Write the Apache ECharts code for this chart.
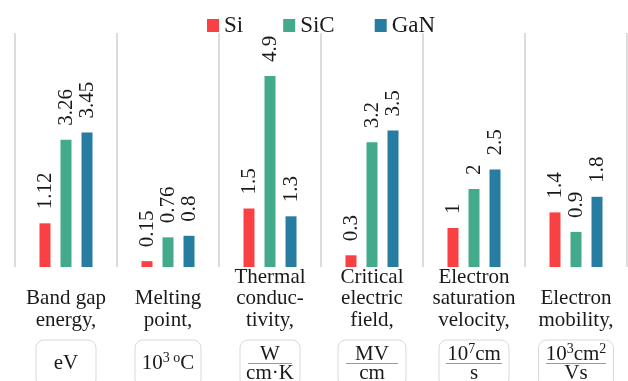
<!DOCTYPE html>
<html>
<head>
<meta charset="utf-8">
<script src="https://cdn.jsdelivr.net/npm/echarts@6/dist/echarts.min.js"></script>
<style>
  html, body { margin: 0; padding: 0; background: #fff; }
  #chart { width: 628px; height: 381px; }
</style>
</head>
<body>
<div id="chart"></div>
<script>
// Material properties of Si, SiC and GaN
const categories = [
  'Band gap\nenergy,',
  'Melting\npoint,',
  'Thermal\nconduc-\ntivity,',
  'Critical\nelectric\nfield,',
  'Electron\nsaturation\nvelocity,',
  'Electron\nmobility,'
];
const unitLabels = [
  '{one|eV}',
  '{one|10}{sup1|3 o}{one|C}',
  '{num|W}\n{barW| }\n{den|cm·K}',
  '{num|MV}\n{barMV| }\n{den|cm}',
  '{num|10}{sup|7}{num|cm}\n{barV| }\n{den|s}',
  '{num|10}{sup|3}{num|cm}{sup|2}\n{barM| }\n{den|Vs}'
];
const seriesNames = ['Si', 'SiC', 'GaN'];
const siValues = [1.12, 0.15, 1.5, 0.3, 1, 1.4];
const sicValues = [3.26, 0.76, 4.9, 3.2, 2, 0.9];
const ganValues = [3.45, 0.8, 1.3, 3.5, 2.5, 1.8];

const FONT = 'Liberation Serif';
const TEXT = '#1a1a1a';
const colors = ['#f94144', '#43aa8b', '#277da1'];
const unitBoxInner = [46, 52, 46, 54, 56, 61];

const chart = echarts.init(document.getElementById('chart'), null, { renderer: 'canvas' });

const barLabel = {
  show: true,
  position: 'top',
  rotate: 90,
  align: 'left',
  verticalAlign: 'middle',
  distance: 14,
  fontFamily: FONT,
  fontSize: 21,
  color: TEXT
};

function barSeries(name, values, color) {
  return {
    name: name,
    type: 'bar',
    data: values,
    barWidth: 11,
    barGap: '91%',
    itemStyle: { color: color },
    label: barLabel
  };
}

const fracBar = (w) => ({ width: w, height: 1, lineHeight: 1, backgroundColor: '#9a9a9a', fontSize: 1 });

const option = {
  backgroundColor: '#ffffff',
  animation: false,
  legend: {
    data: seriesNames,
    left: 202,
    top: 9,
    icon: 'rect',
    itemWidth: 12,
    itemHeight: 13,
    itemGap: 40,
    textStyle: { fontFamily: FONT, fontSize: 23, color: TEXT }
  },
  grid: { left: 15, right: 1, top: 33, bottom: 114, containLabel: false, outerBoundsMode: 'none' },
  xAxis: [
    {
      type: 'category',
      data: categories,
      position: 'bottom',
      axisLine: { show: false },
      axisTick: { show: false },
      splitLine: { show: true, lineStyle: { color: '#dcdcdc', width: 2 } },
      axisLabel: {
        interval: 0,
        margin: 64,
        verticalAlign: 'bottom',
        fontFamily: FONT,
        fontSize: 21,
        lineHeight: 21.5,
        color: TEXT
      }
    },
    {
      type: 'category',
      data: categories.map((c, i) => ({ value: c, textStyle: { width: unitBoxInner[i] } })),
      position: 'bottom',
      axisLine: { show: false },
      axisTick: { show: false },
      splitLine: { show: false },
      axisLabel: {
        interval: 0,
        margin: 73,
        verticalAlign: 'top',
        formatter: (v, i) => unitLabels[i],
        fontFamily: FONT,
        fontSize: 21,
        color: TEXT,
        borderColor: '#d9d9d9',
        borderWidth: 1,
        borderRadius: 8,
        padding: [5, 7, 5, 7],
        rich: {
          one: { fontFamily: FONT, fontSize: 21, lineHeight: 37, color: TEXT },
          num: { fontFamily: FONT, fontSize: 21, lineHeight: 18, color: TEXT },
          den: { fontFamily: FONT, fontSize: 21, lineHeight: 18, color: TEXT },
          sup: { fontFamily: FONT, fontSize: 14, lineHeight: 10, padding: [0, 0, 10, 0], color: TEXT },
          sup1: { fontFamily: FONT, fontSize: 14, lineHeight: 10, padding: [0, 0, 10, 0], color: TEXT },
          barW: fracBar(44),
          barMV: fracBar(52),
          barV: fracBar(56),
          barM: fracBar(60)
        }
      }
    }
  ],
  yAxis: {
    type: 'value',
    min: 0,
    max: 6,
    show: false,
    splitLine: { show: false }
  },
  series: [
    barSeries(seriesNames[0], siValues, colors[0]),
    barSeries(seriesNames[1], sicValues, colors[1]),
    barSeries(seriesNames[2], ganValues, colors[2])
  ]
};

chart.setOption(option);
</script>
</body>
</html>
